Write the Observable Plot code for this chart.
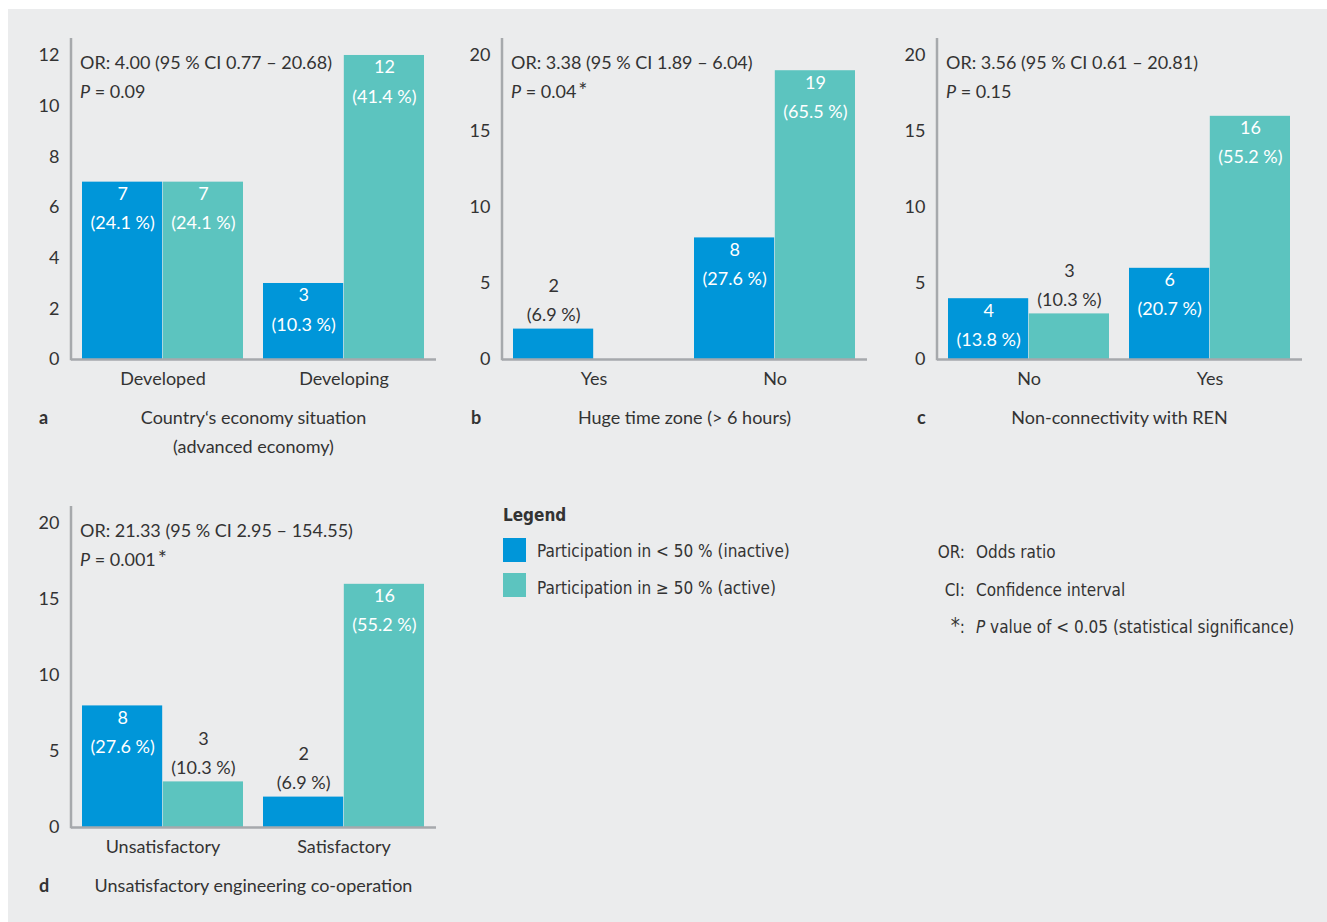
<!DOCTYPE html>
<html>
<head>
<meta charset="utf-8">
<script src="https://cdn.jsdelivr.net/npm/d3@7"></script>
<script src="https://cdn.jsdelivr.net/npm/@observablehq/plot@0.6"></script>
<style>
  html, body { margin: 0; padding: 0; background: #ffffff; }
  #bg { position: absolute; left: 8px; top: 9px; width: 1319px; height: 913px; background: #ebeced; }
  #root { position: absolute; left: 0; top: 0; width: 1327px; height: 922px; font-family: Lato, "Noto Sans", sans-serif; color: #333333; font-size: 18px; }
  .abs { position: absolute; white-space: nowrap; line-height: 24px; height: 24px; }
  .ctr { transform: translateX(-50%); }
  .bold { font-weight: 700; }
  .svgbox { position: absolute; }
  .legend { font-family: "Liberation Sans Narrow", "DejaVu Sans Condensed", Lato, sans-serif; font-size: 17px; }
  .swatch { position: absolute; width: 23px; height: 24px; }
  sup { font-size: 1.2em; vertical-align: 0; position: relative; top: 0; margin-left: 2px; line-height: 0; }
</style>
</head>
<body>
<div id="bg"></div>
<div id="root"></div>
<script>
// ---------- data ----------
const seriesKeys = ["inactive", "active"];
const seriesLabels = ["Participation in < 50 % (inactive)", "Participation in \u2265 50 % (active)"];

const aGroups = ["Developed", "Developing"];
const aInactive = [7, 3];
const aActive = [7, 12];
const aInactivePct = ["24.1", "10.3"];
const aActivePct = ["24.1", "41.4"];
const aTicks = [0, 2, 4, 6, 8, 10, 12];
const aOR = "OR: 4.00 (95 % CI 0.77 \u2013 20.68)";
const aP = "0.09"; const aSig = false;
const aTitle = ["Country\u2018s economy situation", "(advanced economy)"];

const bGroups = ["Yes", "No"];
const bInactive = [2, 8];
const bActive = [0, 19];
const bInactivePct = ["6.9", "27.6"];
const bActivePct = ["", "65.5"];
const bTicks = [0, 5, 10, 15, 20];
const bOR = "OR: 3.38 (95 % CI 1.89 \u2013 6.04)";
const bP = "0.04"; const bSig = true;
const bTitle = ["Huge time zone (> 6 hours)"];

const cGroups = ["No", "Yes"];
const cInactive = [4, 6];
const cActive = [3, 16];
const cInactivePct = ["13.8", "20.7"];
const cActivePct = ["10.3", "55.2"];
const cTicks = [0, 5, 10, 15, 20];
const cOR = "OR: 3.56 (95 % CI 0.61 \u2013 20.81)";
const cP = "0.15"; const cSig = false;
const cTitle = ["Non-connectivity with REN"];

const dGroups = ["Unsatisfactory", "Satisfactory"];
const dInactive = [8, 2];
const dActive = [3, 16];
const dInactivePct = ["27.6", "6.9"];
const dActivePct = ["10.3", "55.2"];
const dTicks = [0, 5, 10, 15, 20];
const dOR = "OR: 21.33 (95 % CI 2.95 \u2013 154.55)";
const dP = "0.001"; const dSig = true;
const dTitle = ["Unsatisfactory engineering co-operation"];

const legendNotes = [["OR:", "Odds ratio"], ["CI:", "Confidence interval"], ["*:", "P value of < 0.05 (statistical significance)"]];

// ---------- style ----------
const BLUE = "#0096d9";
const TEAL = "#5cc4bf";
const TEXT = "#333333";
const AXIS = "#a6a9ac";
const FONT = "Lato, 'Noto Sans', sans-serif";

const root = document.getElementById("root");

function addDiv(html, left, yc, cls = "") {
  const d = document.createElement("div");
  d.className = "abs " + cls;
  d.style.left = left + "px";
  d.style.top = (yc - 12) + "px";
  d.innerHTML = html;
  root.appendChild(d);
  return d;
}

function panel(p) {
  const W = 440, H = 400, ML = 60, MR = 15, MT = 38, MB = 41;
  const PI = 0.11, PO = 0.06;
  const rows = p.groups.map((g, i) => ({
    group: g,
    inactive: p.inactive[i], active: p.active[i],
    inactivePct: p.inactivePct[i], activePct: p.activePct[i]
  }));
  const band = d3.scaleBand().domain(p.groups).range([ML, W - MR]).paddingInner(PI).paddingOuter(PO);
  const hb = band.bandwidth() / 2;
  const threshold = 0.18 * p.yMax;
  const marks = [];
  const specs = [
    {key: "inactive", fill: BLUE, insetLeft: 0, insetRight: hb, dx: -hb / 2},
    {key: "active", fill: TEAL, insetLeft: hb, insetRight: 0, dx: hb / 2}
  ];
  for (const s of specs) {
    const d = rows.filter(r => r[s.key] > 0);
    marks.push(Plot.barY(d, {x: "group", y: s.key, fill: s.fill, insetLeft: s.insetLeft, insetRight: s.insetRight}));
    const lab = r => `${r[s.key]}\n(${r[s.key + "Pct"]} %)`;
    marks.push(Plot.text(d.filter(r => r[s.key] >= threshold), {
      x: "group", y: s.key, text: lab, dx: s.dx, dy: -3, lineAnchor: "top",
      fill: "white", fontSize: 18, lineHeight: 1.63
    }));
    marks.push(Plot.text(d.filter(r => r[s.key] < threshold), {
      x: "group", y: s.key, text: lab, dx: s.dx, dy: -8, lineAnchor: "bottom",
      fill: TEXT, fontSize: 18, lineHeight: 1.63
    }));
  }
  marks.push(Plot.ruleY([0], {stroke: AXIS, strokeWidth: 2.5}));
  marks.push((index, scales, values, dims) => {
    const ln = document.createElementNS("http://www.w3.org/2000/svg", "line");
    ln.setAttribute("x1", dims.marginLeft);
    ln.setAttribute("x2", dims.marginLeft);
    ln.setAttribute("y1", scales.y(0) + 1.25);
    ln.setAttribute("y2", scales.y(p.yMax));
    ln.setAttribute("stroke", AXIS);
    ln.setAttribute("stroke-width", 2.5);
    return ln;
  });
  marks.push(Plot.axisY({ticks: p.ticks, tickSize: 0, tickPadding: 12, fontSize: 18, label: null, tickFormat: d => String(d)}));
  marks.push(Plot.axisX({tickSize: 0, tickPadding: 13, fontSize: 18, label: null}));

  const chart = Plot.plot({
    width: W, height: H,
    marginLeft: ML, marginRight: MR, marginTop: MT, marginBottom: MB,
    style: {fontFamily: FONT, fontSize: "18px", color: TEXT, background: "transparent", overflow: "visible"},
    x: {type: "band", domain: p.groups, paddingInner: PI, paddingOuter: PO, axis: null},
    y: {domain: [0, p.yMax], axis: null},
    marks
  });
  const box = document.createElement("div");
  box.className = "svgbox";
  box.style.left = p.left + "px";
  box.style.top = p.top + "px";
  box.appendChild(chart);
  root.appendChild(box);

  // annotations (OR, P)
  const fx0 = p.left + ML;
  addDiv(p.or, fx0 + 9, p.top + 62);
  addDiv(`<i>P</i> = ${p.pv}${p.sig ? "<sup>*</sup>" : ""}`, fx0 + 9, p.top + 91);
  // letter + title
  addDiv(p.letter, p.letterX, p.top + 417, "bold");
  const cx = p.left + ML + (W - ML - MR) / 2;
  p.title.forEach((t, i) => addDiv(t, cx, p.top + 417 + i * 29, "ctr"));
}

panel({groups: aGroups, inactive: aInactive, active: aActive, inactivePct: aInactivePct, activePct: aActivePct,
  ticks: aTicks, yMax: 12.67, left: 11, top: 0, or: aOR, pv: aP, sig: aSig, letter: "a", letterX: 39, title: aTitle});
panel({groups: bGroups, inactive: bInactive, active: bActive, inactivePct: bInactivePct, activePct: bActivePct,
  ticks: bTicks, yMax: 21.12, left: 442, top: 0, or: bOR, pv: bP, sig: bSig, letter: "b", letterX: 471, title: bTitle});
panel({groups: cGroups, inactive: cInactive, active: cActive, inactivePct: cInactivePct, activePct: cActivePct,
  ticks: cTicks, yMax: 21.12, left: 877, top: 0, or: cOR, pv: cP, sig: cSig, letter: "c", letterX: 917, title: cTitle});
panel({groups: dGroups, inactive: dInactive, active: dActive, inactivePct: dInactivePct, activePct: dActivePct,
  ticks: dTicks, yMax: 21.12, left: 11, top: 468, or: dOR, pv: dP, sig: dSig, letter: "d", letterX: 39, title: dTitle});

// ---------- legend ----------
addDiv("Legend", 503, 515, "bold legend");
[BLUE, TEAL].forEach((c, i) => {
  const sw = document.createElement("div");
  sw.className = "swatch";
  sw.style.background = c;
  sw.style.left = "503px";
  sw.style.top = (538 + i * 35) + "px";
  root.appendChild(sw);
  addDiv(seriesLabels[i].replace("<", "&lt;"), 537, 551 + i * 37, "legend");
});
legendNotes.forEach(([k, v], i) => {
  const yc = 552 + i * 37.5;
  const kd = addDiv(k === "*:" ? "<sup>*</sup>:" : k, 0, yc, "legend");
  kd.style.left = "auto";
  kd.style.right = (1327 - 965) + "px";
  const txt = v.startsWith("P ") ? "<i>P</i>" + v.slice(1).replace("<", "&lt;") : v;
  addDiv(txt, 976, yc, "legend");
});
</script>
</body>
</html>
